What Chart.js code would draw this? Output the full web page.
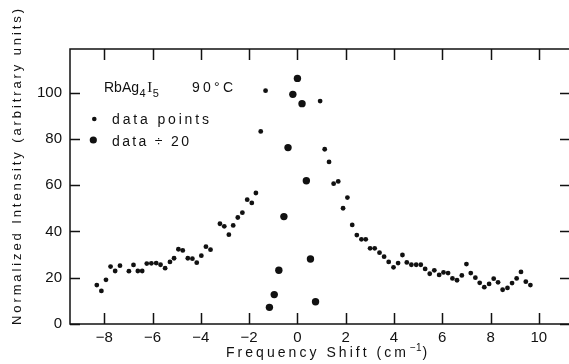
<!DOCTYPE html>
<html>
<head>
<meta charset="utf-8">
<script src="https://cdn.jsdelivr.net/npm/chart.js@4/dist/chart.umd.min.js"></script>
<style>
html, body { margin: 0; padding: 0; background: #fff; overflow: hidden; }
canvas { display: block; }
</style>
</head>
<body>
<canvas id="ramanChart" width="576" height="364"></canvas>
<script>
// tick labels
const xTicks = [-8, -6, -4, -2, 0, 2, 4, 6, 8, 10];
const yTicks = [0, 20, 40, 60, 80, 100];

// "data points" (small dots)
const shiftSmall = [
    -8.31, -8.12, -7.93, -7.74, -7.55, -7.35, -6.98, -6.79, -6.61, -6.43,
    -6.24, -6.05, -5.85, -5.67, -5.48, -5.28, -5.11, -4.93, -4.75, -4.54,
    -4.35, -4.17, -3.98, -3.79, -3.60, -3.21, -3.03, -2.84, -2.66, -2.47,
    -2.28, -2.08, -1.89, -1.72, -1.52, -1.32,
    0.94, 1.13, 1.31, 1.50, 1.69, 1.89, 2.07, 2.27, 2.46, 2.65,
    2.83, 3.01, 3.20, 3.40, 3.59, 3.78, 3.98, 4.17, 4.35, 4.53,
    4.72, 4.92, 5.11, 5.29, 5.48, 5.67, 5.87, 6.05, 6.24, 6.42,
    6.61, 6.81, 7.00, 7.18, 7.37, 7.55, 7.74, 7.94, 8.13, 8.31,
    8.50, 8.70, 8.89, 9.08, 9.26, 9.46, 9.65
];
const intensitySmall = [
    16.8, 14.3, 19.1, 24.8, 22.9, 25.2, 22.8, 25.5, 22.9, 22.9,
    26.1, 26.2, 26.3, 25.6, 24.1, 26.8, 28.4, 32.3, 31.8, 28.4,
    28.2, 26.5, 29.5, 33.4, 32.1, 43.3, 42.2, 38.6, 42.6, 46.0,
    48.1, 53.7, 52.3, 56.6, 83.2, 100.8,
    96.3, 75.5, 70.0, 60.6, 61.6, 50.0, 54.6, 42.8, 38.4, 36.6,
    36.6, 32.7, 32.7, 30.8, 29.1, 26.8, 24.5, 26.3, 29.8, 26.6,
    25.6, 25.6, 25.6, 23.8, 21.7, 23.2, 21.2, 22.3, 22.0, 19.7,
    18.9, 21.0, 25.9, 22.0, 20.0, 17.8, 15.9, 17.3, 19.6, 18.0,
    14.8, 15.6, 17.7, 19.7, 22.5, 18.3, 16.8
];

// "data ÷ 20" (large dots)
const shiftLarge = [-1.16, -0.96, -0.77, -0.56, -0.39, -0.19, 0.0, 0.19, 0.37, 0.54, 0.75];
const intensityLarge = [7.2, 12.7, 23.2, 46.4, 76.2, 99.2, 106.1, 95.2, 61.9, 28.1, 9.6];

const ink = '#111';
const font = '"Liberation Sans", Arial, sans-serif';

function toPoints(xs, ys) {
    return xs.map((x, i) => ({ x: x, y: ys[i] }));
}

// draw text stretched with letter spacing to a given width
function spaced(ctx, text, x, y, width) {
    ctx.letterSpacing = '0px';
    const w = ctx.measureText(text).width;
    const gap = width ? (width - w) / Math.max(text.length - 1, 1) : 0;
    ctx.letterSpacing = gap + 'px';
    ctx.fillText(text, x, y);
    const out = ctx.measureText(text).width;
    ctx.letterSpacing = '0px';
    return out;
}

const framePlugin = {
    id: 'frame',
    afterDraw(chart) {
        const ctx = chart.ctx;
        const a = chart.chartArea;
        const xs = chart.scales.x;
        const ys = chart.scales.y;
        ctx.save();
        ctx.strokeStyle = ink;
        ctx.lineWidth = 1.5;
        ctx.strokeRect(a.left, a.top, a.right - a.left, a.bottom - a.top);
        ctx.beginPath();
        xTicks.forEach(v => {
            const px = Math.round(xs.getPixelForValue(v)) + 0.5;
            ctx.moveTo(px, a.bottom); ctx.lineTo(px, a.bottom - 11);
            ctx.moveTo(px, a.top); ctx.lineTo(px, a.top + 11);
        });
        yTicks.forEach(v => {
            const py = Math.round(ys.getPixelForValue(v)) + 0.5;
            ctx.moveTo(a.left, py); ctx.lineTo(a.left + 10, py);
            ctx.moveTo(a.right, py); ctx.lineTo(a.right - 10, py);
        });
        ctx.stroke();

        ctx.fillStyle = ink;
        ctx.textBaseline = 'alphabetic';
        ctx.textAlign = 'left';

        // y title
        ctx.save();
        ctx.translate(21, 167);
        ctx.rotate(-Math.PI / 2);
        ctx.font = '13px ' + font;
        spaced(ctx, 'Normalized Intensity (arbitrary units)', -158, 0, 316);
        ctx.restore();

        // x title
        ctx.font = '14px ' + font;
        let x = 226;
        x += spaced(ctx, 'Frequency Shift (cm', x, 357, 180);
        ctx.font = '10px ' + font;
        x += spaced(ctx, '\u22121', x + 1, 351, 0) + 1;
        ctx.font = '14px ' + font;
        ctx.fillText(')', x + 1, 357);

        // sample label
        x = 104;
        ctx.font = '14px ' + font;
        x += spaced(ctx, 'RbAg', x, 92, 0);
        ctx.font = '11px ' + font;
        x += spaced(ctx, '4', x + 0.5, 97, 0) + 2;
        ctx.font = '15px "Liberation Serif", serif';
        x += spaced(ctx, 'I', x, 92, 0) + 0.5;
        ctx.font = '11px ' + font;
        spaced(ctx, '5', x, 97, 0);
        ctx.font = '14px ' + font;
        spaced(ctx, '90\u00b0C', 192, 92, 41);

        // legend
        ctx.beginPath();
        ctx.arc(94.3, 119, 2.3, 0, Math.PI * 2);
        ctx.fill();
        ctx.beginPath();
        ctx.arc(93.3, 140, 3.6, 0, Math.PI * 2);
        ctx.fill();
        ctx.font = '14px ' + font;
        spaced(ctx, 'data points', 112, 124, 97);
        spaced(ctx, 'data \u00f7 20', 112, 146, 77);
        ctx.restore();
    }
};

const ctx = document.getElementById('ramanChart').getContext('2d');
new Chart(ctx, {
    type: 'scatter',
    data: {
        datasets: [
            {
                label: 'data points',
                data: toPoints(shiftSmall, intensitySmall),
                backgroundColor: ink,
                borderWidth: 0,
                pointRadius: 2.4
            },
            {
                label: 'data \u00f7 20',
                data: toPoints(shiftLarge, intensityLarge),
                backgroundColor: ink,
                borderWidth: 0,
                pointRadius: 3.7
            }
        ]
    },
    options: {
        responsive: false,
        animation: false,
        devicePixelRatio: 1,
        layout: { padding: { top: 49, right: 6, left: 0, bottom: 0 } },
        plugins: {
            legend: { display: false },
            tooltip: { enabled: false }
        },
        scales: {
            x: {
                type: 'linear',
                min: -9.42,
                max: 11.29,
                grid: { display: false, drawTicks: false },
                border: { display: false },
                afterFit: s => { s.height = 40; },
                afterBuildTicks: s => { s.ticks = xTicks.map(v => ({ value: v })); },
                ticks: {
                    padding: 5,
                    color: ink,
                    font: { family: font, size: 15 },
                    maxRotation: 0,
                    callback: v => String(v).replace('-', '\u2212')
                }
            },
            y: {
                type: 'linear',
                min: 0,
                max: 118.8,
                grid: { display: false, drawTicks: false },
                border: { display: false },
                afterFit: s => { s.width = 70; },
                afterBuildTicks: s => { s.ticks = yTicks.map(v => ({ value: v })); },
                ticks: {
                    padding: 8,
                    color: ink,
                    font: { family: font, size: 15 }
                }
            }
        }
    },
    plugins: [framePlugin]
});
</script>
</body>
</html>
